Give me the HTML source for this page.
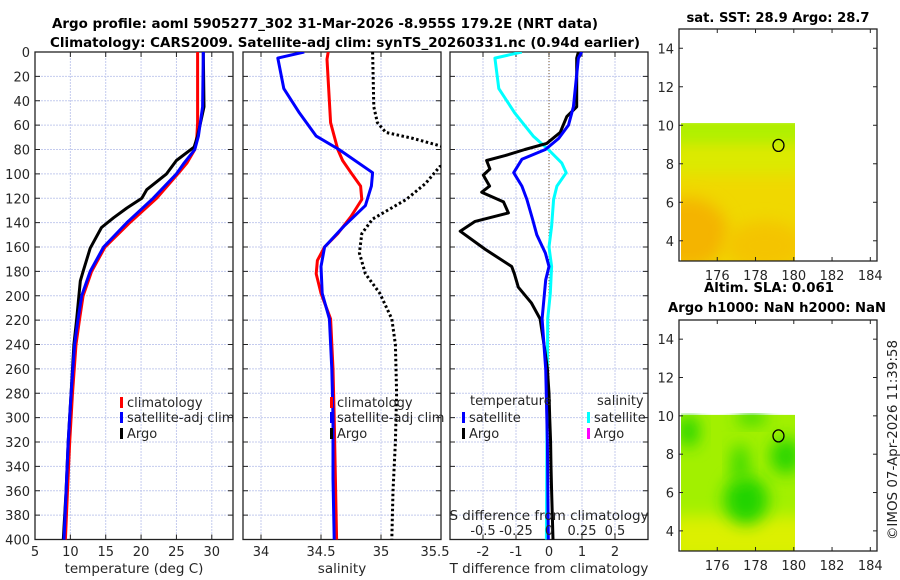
<!DOCTYPE html>
<html><head><meta charset="utf-8"><style>
html,body{margin:0;padding:0;background:#fff;}
svg{display:block;font-family:"DejaVu Sans","Liberation Sans",sans-serif;}
</style></head><body>
<svg id="c" width="900" height="580" viewBox="0 0 900 580">
<defs>
<filter id="bl" x="-50%" y="-50%" width="200%" height="200%"><feGaussianBlur stdDeviation="8"/></filter>
<clipPath id="cp1"><rect x="35" y="52" width="198" height="488"/></clipPath>
<clipPath id="cp2"><rect x="243" y="52" width="198" height="488"/></clipPath>
<clipPath id="cp3"><rect x="450" y="52" width="198" height="488"/></clipPath>
<clipPath id="cm1"><rect x="681" y="123" width="114" height="138"/></clipPath>
<clipPath id="cm2"><rect x="681" y="413" width="114" height="138"/></clipPath>
</defs>
<text x="325" y="28" text-anchor="middle" font-weight="bold" font-size="13.5" textLength="546" lengthAdjust="spacingAndGlyphs">Argo profile: aoml 5905277_302 31-Mar-2026 -8.955S 179.2E (NRT data)</text>
<text x="345" y="47" text-anchor="middle" font-weight="bold" font-size="13.5" textLength="590" lengthAdjust="spacingAndGlyphs">Climatology: CARS2009. Satellite-adj clim: synTS_20260331.nc (0.94d earlier)</text>
<g id="g"></g>
<text x="778" y="22" text-anchor="middle" font-weight="bold" font-size="13" textLength="183" lengthAdjust="spacingAndGlyphs">sat. SST: 28.9 Argo: 28.7</text>
<text x="769" y="292" text-anchor="middle" font-weight="bold" font-size="13" textLength="130" lengthAdjust="spacingAndGlyphs">Altim. SLA: 0.061</text>
<text x="777" y="312" text-anchor="middle" font-weight="bold" font-size="13" textLength="218" lengthAdjust="spacingAndGlyphs">Argo h1000: NaN h2000: NaN</text>
<text transform="translate(897,440) rotate(-90)" text-anchor="middle" font-size="13" fill="#222" textLength="200" lengthAdjust="spacingAndGlyphs">©IMOS 07-Apr-2026 11:39:58</text>
</svg>
<script>
// ---- data ----
const depthTicks = [0,20,40,60,80,100,120,140,160,180,200,220,240,260,280,300,320,340,360,380,400];
const tempTicks = [5,10,15,20,25,30];
const salTicks = [34,34.5,35,35.5];
const tdiffTicks = [-2,-1,0,1,2];
const sdiffTickLabels = ["-0.5","-0.25","0","0.25","0.5"];
const sdiffTickValues = [-0.5,-0.25,0,0.25,0.5];
const lonTicks = [176,178,180,182,184];
const latTicks = [4,6,8,10,12,14];

const tClimDepth = [0,58,69,80,91,100,120,140,160,180,200,219,240,280,320,360,400];
const tClim = [28.0,28.0,27.9,27.6,26.5,25.2,22.2,18.4,14.9,13.0,11.8,11.3,10.8,10.3,9.9,9.6,9.3];
const tSatDepth = [0,45,69,80,91,100,120,140,160,180,200,219,240,280,320,360,400];
const tSat = [28.8,28.7,28.1,27.6,26.1,25.0,21.7,18.0,14.7,12.8,11.6,11.1,10.6,10.1,9.7,9.4,9.1];
const tArgoDepth = [0,45,69,78,89,100,113,120,128,136,144,161,180,188,219,240,280,320,360,400];
const tArgo = [28.8,28.9,28.0,27.5,25.0,23.6,20.8,20.1,18.0,16.1,14.4,12.8,11.8,11.4,10.9,10.5,10.1,9.7,9.4,9.0];

const sClimDepth = [0,6,58,80,89,99,110,121,135,149,160,171,182,198,219,260,300,350,400];
const sClim = [34.56,34.55,34.58,34.64,34.68,34.75,34.83,34.84,34.75,34.64,34.53,34.47,34.46,34.50,34.58,34.60,34.61,34.62,34.63];
const sSatDepth = [0,5,30,50,69,80,99,110,126,143,160,176,198,219,260,300,350,400];
const sSat = [34.36,34.14,34.19,34.32,34.46,34.65,34.93,34.92,34.87,34.69,34.53,34.50,34.51,34.57,34.59,34.60,34.60,34.61];
const sArgoDepth = [0,45,58,66,71,77,86,94,108,121,137,149,165,182,198,219,240,280,320,360,400];
const sArgo = [34.93,34.94,34.97,35.04,35.27,35.49,35.8,35.49,35.37,35.21,34.93,34.84,34.82,34.87,34.99,35.09,35.12,35.13,35.12,35.10,35.09];

const dTSatDepth = [0,5,45,60,71,80,88,99,110,121,137,150,165,176,187,219,260,320,400];
const dTSat = [0.99,0.89,0.74,0.59,0.29,-0.11,-0.82,-1.07,-0.82,-0.67,-0.5,-0.37,-0.11,0.0,-0.1,-0.21,-0.1,-0.05,-0.02];
const dTArgoDepth = [0,5,45,53,66,75,80,85,89,96,101,110,115,123,132,139,147,162,176,182,193,206,219,240,260,280,300,320,340,360,380,400];
const dTArgo = [0.89,0.84,0.84,0.54,0.34,-0.07,-0.73,-1.33,-1.89,-1.79,-1.99,-1.80,-2.04,-1.38,-1.23,-2.24,-2.69,-1.93,-1.13,-1.05,-0.93,-0.53,-0.27,-0.15,-0.05,0.0,0.02,0.05,0.06,0.08,0.1,0.12];
const dSSatDepth = [0,5,30,50,69,80,91,99,110,121,143,160,176,198,219,300,400];
const dSSat = [-0.206,-0.41,-0.38,-0.26,-0.12,-0.005,0.096,0.13,0.06,0.035,0.02,0.0,0.02,0.01,-0.01,-0.015,-0.02];

// ---- axes ----
const Y0=52, Y1=539.5;
const yD = d => Y0 + (d/400)*(Y1-Y0);
const xT = v => 35 + (v-5)/(33-5)*198;
const xS = v => 243 + (v-33.85)/(35.5-33.85)*198;
const xDT = v => 450 + (v+3)/6*198;
const xDS = v => xDT(v*4);
const xLon = v => 679 + (v-174)/(184.35-174)*198;
const latTop = v => 29 + (15-v)/(15-2.95)*232;
const latBot = v => 320 + (15-v)/(15-2.95)*231;

const NS="http://www.w3.org/2000/svg";
const root=document.getElementById('g');
function mk(tag,attrs,parent){const e=document.createElementNS(NS,tag);for(const k in attrs)e.setAttribute(k,attrs[k]);(parent||root).appendChild(e);return e;}
function txt(x,y,s,size,anchor,parent){const e=mk('text',{x:x,y:y,'font-size':size,'text-anchor':anchor,fill:'#262626'},parent);e.textContent=s;return e;}

function panel(x0,name,xTicksV,xf,labels,xlabel,clip){
  const g=mk('g',{});
  
  
  const x1=x0+198;
  depthTicks.forEach(d=>{ if(d>0&&d<400){ const gl=mk('line',{x1:x0,x2:x1,y1:yD(d),y2:yD(d),stroke:'#c4cbee','stroke-width':1,'stroke-dasharray':'2,1'},g);
    
     }
    mk('line',{x1:x0,x2:x0+5,y1:yD(d),y2:yD(d),stroke:'#222'},g);
    mk('line',{x1:x1-5,x2:x1,y1:yD(d),y2:yD(d),stroke:'#222'},g);
  });
  xTicksV.forEach((v,i)=>{const x=xf(v);
    if(x>x0+1&&x<x1-1){ const gl=mk('line',{x1:x,x2:x,y1:Y0,y2:Y1,stroke:'#c4cbee','stroke-width':1,'stroke-dasharray':'2,1'},g);
      
       }
    mk('line',{x1:x,x2:x,y1:Y0,y2:Y0+5,stroke:'#222'},g);
    mk('line',{x1:x,x2:x,y1:Y1-5,y2:Y1,stroke:'#222'},g);
    const t=txt(Math.min(x,x1-6),556,labels[i],13,'middle',g);
    
    
  });
  const xl=txt(x0+99,573,xlabel,13.5,'middle',g);
  
  
  const frame=mk('rect',{x:x0,y:Y0,width:198,height:Y1-Y0,fill:'none',stroke:'#222','stroke-width':1.3},g);
  
  
  return g;
}
function series(g,depths,vals,xf,color,name,clip,dash,w){
  const pts=depths.map((d,i)=>xf(vals[i]).toFixed(1)+','+yD(d).toFixed(1)).join(' ');
  const p=mk('polyline',{points:pts,fill:'none',stroke:color,'stroke-width':w||3,'stroke-linejoin':'round','clip-path':'url(#'+clip+')'},g);
  if(dash){p.setAttribute('stroke-dasharray',dash);}
  
  
  return p;
}
function legendEntry(g,x,y,color,label,name){
  mk('rect',{x:x,y:y-10,width:3,height:11,fill:color},g);
  const t=txt(x+7,y,label,13,'start',g);
  
  
}

// y tick labels
depthTicks.forEach(d=>{const t=txt(30,yD(d)+5,String(d),13,'end');
  
  });

// panel 1
const p1=panel(35,'temperature-panel',tempTicks,xT,tempTicks.map(String),'temperature (deg C)','cp1');
series(p1,tClimDepth,tClim,xT,'#ff0000','temp-climatology-line','cp1');
series(p1,tArgoDepth,tArgo,xT,'#000000','temp-argo-line','cp1');
series(p1,tSatDepth,tSat,xT,'#0000ff','temp-satellite-line','cp1');
legendEntry(p1,120,407,'#ff0000','climatology','legend-climatology');
legendEntry(p1,120,422,'#0000ff','satellite-adj clim','legend-satellite-adj');
legendEntry(p1,120,438,'#000000','Argo','legend-argo');

// panel 2
const p2=panel(243,'salinity-panel',salTicks,xS,salTicks.map(String),'salinity','cp2');
series(p2,sArgoDepth,sArgo,xS,'#000000','sal-argo-line','cp2','2.5,2.5',3);
series(p2,sClimDepth,sClim,xS,'#ff0000','sal-climatology-line','cp2');
series(p2,sSatDepth,sSat,xS,'#0000ff','sal-satellite-line','cp2');
legendEntry(p2,330,407,'#ff0000','climatology','legend-climatology-2');
legendEntry(p2,330,422,'#0000ff','satellite-adj clim','legend-satellite-adj-2');
legendEntry(p2,330,438,'#000000','Argo','legend-argo-2');

// panel 3
const p3=panel(450,'difference-panel',tdiffTicks,xDT,tdiffTicks.map(String),'T difference from climatology','cp3');
const zl=mk('line',{x1:xDT(0),x2:xDT(0),y1:Y0,y2:Y1,stroke:'#7a5a30','stroke-width':1,'stroke-dasharray':'1,2'},p3);


series(p3,dSSatDepth,dSSat,xDS,'#00ffff','sdiff-satellite-line','cp3');
series(p3,dTArgoDepth,dTArgo,xDT,'#000000','tdiff-argo-line','cp3');
series(p3,dTSatDepth,dTSat,xDT,'#0000ff','tdiff-satellite-line','cp3');
const lt1=txt(470,405,'temperature',13,'start',p3);
const lt2=txt(597,405,'salinity',13,'start',p3);
legendEntry(p3,462,422,'#0000ff','satellite','legend-t-satellite');
legendEntry(p3,462,438,'#000000','Argo','legend-t-argo');
legendEntry(p3,587,422,'#00ffff','satellite','legend-s-satellite');
legendEntry(p3,587,438,'#ff00ff','Argo','legend-s-argo');
const st=txt(549,520,'S difference from climatology',13.5,'middle',p3);

sdiffTickValues.forEach((v,i)=>{const t=txt(xDS(v),535,sdiffTickLabels[i],13,'middle',p3);
  });

// maps
function mapAxes(yf,y0,y1,name,clip,top){
  const g=mk('g',{});
  
  
  const cg=mk('g',{'clip-path':'url(#'+clip+')'},g);
  const ytop=yf(10.05), ybot=y1;
  if(top){
    mk('rect',{x:681,y:ytop,width:114,height:ybot-ytop,fill:'#f0d800'},cg);
    mk('rect',{x:670,y:ytop-10,width:140,height:40,fill:'#aef000',filter:'url(#bl)'},cg);
    mk('rect',{x:670,y:ytop+20,width:140,height:30,fill:'#dcea00',filter:'url(#bl)'},cg);
    mk('ellipse',{cx:688,cy:ybot-28,rx:40,ry:35,fill:'#f4b400',filter:'url(#bl)'},cg);
    mk('ellipse',{cx:765,cy:ybot-15,rx:40,ry:25,fill:'#f4c400',filter:'url(#bl)'},cg);
  } else {
    mk('rect',{x:681,y:ytop,width:114,height:ybot-ytop,fill:'#a2f000'},cg);
    mk('rect',{x:670,y:ybot-35,width:140,height:45,fill:'#dcf000',filter:'url(#bl)'},cg);
    mk('ellipse',{cx:xLon(177.5),cy:yf(5.6),rx:22,ry:24,fill:'#22d400',filter:'url(#bl)'},cg);
    mk('ellipse',{cx:xLon(177.2),cy:yf(7.5),rx:9,ry:20,fill:'#3cda00',filter:'url(#bl)'},cg);
    mk('ellipse',{cx:xLon(179.6),cy:yf(7.9),rx:16,ry:18,fill:'#2cd600',filter:'url(#bl)'},cg);
    mk('ellipse',{cx:xLon(174.5),cy:yf(9.2),rx:11,ry:16,fill:'#2cd600',filter:'url(#bl)'},cg);
    mk('ellipse',{cx:xLon(177.8),cy:yf(9.9),rx:16,ry:7,fill:'#38d800',filter:'url(#bl)'},cg);
  }
  lonTicks.forEach(v=>{const x=xLon(v);
    mk('line',{x1:x,x2:x,y1:y0,y2:y0+4,stroke:'#222'},g);
    mk('line',{x1:x,x2:x,y1:y1-4,y2:y1,stroke:'#222'},g);
    const t=txt(x,y1+19,String(v),13,'middle',g);
    });
  latTicks.forEach(v=>{const y=yf(v);
    mk('line',{x1:679,x2:683,y1:y,y2:y,stroke:'#222'},g);
    mk('line',{x1:873,x2:877,y1:y,y2:y,stroke:'#222'},g);
    const t=txt(674,y+5,String(v),13,'end',g);
    });
  const m=mk('ellipse',{cx:xLon(179.2),cy:yf(8.955),rx:5.5,ry:6,fill:'none',stroke:'#000','stroke-width':1.3},g);
  
  
  const f=mk('rect',{x:679,y:y0,width:198,height:y1-y0,fill:'none',stroke:'#222','stroke-width':1.3},g);
  
  
}
mapAxes(latTop,29,261,'sst-map','cm1',true);
mapAxes(latBot,320,551,'sla-map','cm2',false);
</script>
</body></html>
